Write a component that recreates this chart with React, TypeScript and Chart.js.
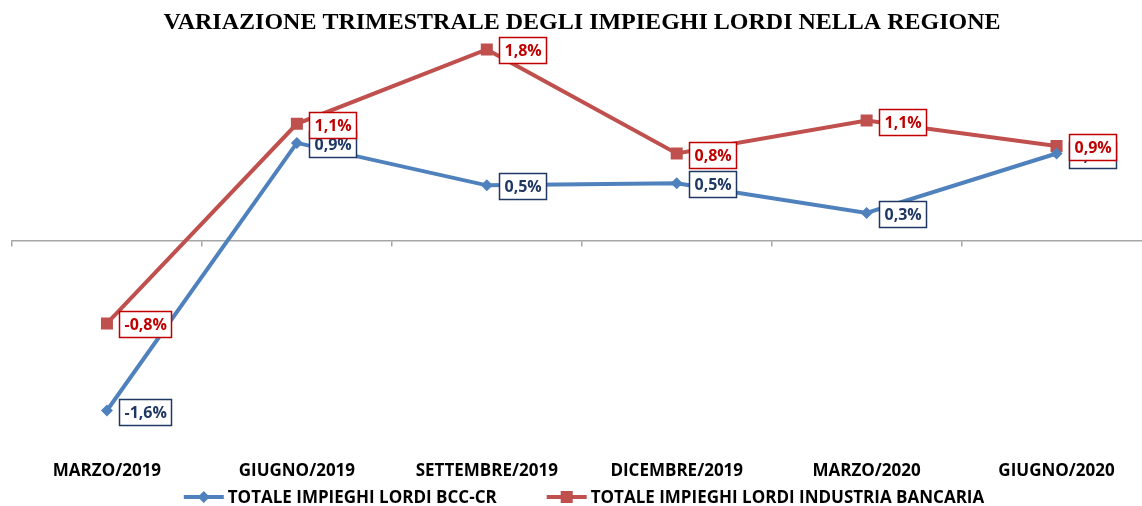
import React, { useEffect, useRef } from "react";
import { Chart, registerables } from "chart.js";

Chart.register(...registerables);

const categories = ["MARZO/2019", "GIUGNO/2019", "SETTEMBRE/2019", "DICEMBRE/2019", "MARZO/2020", "GIUGNO/2020"];
const bccValues = [-1.6, 0.92, 0.52, 0.54, 0.26, 0.82];
const industriaValues = [-0.78, 1.1, 1.8, 0.82, 1.13, 0.89];
const seriesNames = ["TOTALE IMPIEGHI LORDI BCC-CR", "TOTALE IMPIEGHI LORDI INDUSTRIA BANCARIA"];
const titleText = "VARIAZIONE TRIMESTRALE DEGLI IMPIEGHI LORDI NELLA REGIONE";

const BLUE = "#4F81BD";
const RED = "#C0504D";
const BLUE_LABEL = "#1F3864";
const RED_LABEL = "#C00000";
const AXIS = "#A6A6A6";
const SANS = '"Open Sans", "Noto Sans", sans-serif';

const labelColors = [BLUE_LABEL, RED_LABEL];
const lineColors = [BLUE, RED];

const boxLabels = {
  id: "boxLabels",
  afterDatasetsDraw(chart: any) {
    const ctx = chart.ctx as CanvasRenderingContext2D;
    chart.data.datasets.forEach((ds: any, di: number) => {
      const meta = chart.getDatasetMeta(di);
      const color = labelColors[di];
      ctx.save();
      ctx.font = `bold 16px ${SANS}`;
      meta.data.forEach((pt: any, i: number) => {
        const v = ds.data[i] as number;
        const txt = v.toFixed(1).replace(".", ",") + "%";
        const tw = ctx.measureText(txt).width;
        const w = Math.round(tw + 10);
        const h = 26;
        const x = Math.round(pt.x + 12) + 0.5;
        const y = Math.round(pt.y + 1 - h / 2) + 0.5;
        ctx.fillStyle = "#ffffff";
        ctx.fillRect(x, y, w, h);
        ctx.strokeStyle = color;
        ctx.lineWidth = 1.5;
        ctx.strokeRect(x, y, w, h);
        ctx.fillStyle = color;
        ctx.textAlign = "left";
        ctx.textBaseline = "middle";
        ctx.fillText(txt, x + 5, y + h / 2 + 1);
      });
      ctx.restore();
    });
  },
};

const bottomLegend = {
  id: "bottomLegend",
  afterDraw(chart: any) {
    const ctx = chart.ctx as CanvasRenderingContext2D;
    ctx.save();
    ctx.font = `bold 17px ${SANS}`;
    const lineLen = 40;
    const textGap = 4;
    const itemGap = 50;
    const widths = seriesNames.map((s) => ctx.measureText(s).width);
    const total = widths.reduce((a, w) => a + lineLen + textGap + w, 0) + itemGap * (seriesNames.length - 1);
    let x = 584 - total / 2;
    const y = 497;
    seriesNames.forEach((name, i) => {
      const color = lineColors[i];
      ctx.strokeStyle = color;
      ctx.lineWidth = 4;
      ctx.beginPath();
      ctx.moveTo(x, y);
      ctx.lineTo(x + lineLen, y);
      ctx.stroke();
      ctx.fillStyle = color;
      const cx = x + lineLen / 2;
      if (i === 0) {
        ctx.beginPath();
        ctx.moveTo(cx, y - 6);
        ctx.lineTo(cx + 6, y);
        ctx.lineTo(cx, y + 6);
        ctx.lineTo(cx - 6, y);
        ctx.closePath();
        ctx.fill();
      } else {
        ctx.fillRect(cx - 6, y - 6, 12, 12);
      }
      ctx.fillStyle = "#000";
      ctx.textAlign = "left";
      ctx.textBaseline = "middle";
      ctx.fillText(name, x + lineLen + textGap, y + 1);
      x += lineLen + textGap + widths[i] + itemGap;
    });
    ctx.restore();
  },
};

export default function App() {
  const ref = useRef<HTMLCanvasElement>(null);

  useEffect(() => {
    const chart = new Chart(ref.current!, {
      type: "line",
      data: {
        labels: categories,
        datasets: [
          {
            label: seriesNames[0],
            data: bccValues,
            borderColor: BLUE,
            backgroundColor: BLUE,
            borderWidth: 4,
            pointStyle: "rectRot",
            pointRadius: 6,
            pointBackgroundColor: BLUE,
            pointBorderColor: BLUE,
            pointBorderWidth: 0,
            tension: 0,
          },
          {
            label: seriesNames[1],
            data: industriaValues,
            borderColor: RED,
            backgroundColor: RED,
            borderWidth: 4,
            pointStyle: "rect",
            pointRadius: 8.5,
            pointBackgroundColor: RED,
            pointBorderColor: RED,
            pointBorderWidth: 0,
            tension: 0,
          },
        ],
      },
      options: {
        responsive: false,
        animation: false,
        devicePixelRatio: 1,
        layout: { padding: { left: 12, right: 8, top: 0, bottom: 16.6 } },
        scales: {
          x: {
            type: "category",
            offset: true,
            grid: { display: false, drawTicks: false },
            border: { display: false },
            ticks: {
              color: "#000",
              font: { family: SANS, size: 17, weight: "bold" },
              padding: 8,
              maxRotation: 0,
              autoSkip: false,
            },
          },
          x2: {
            type: "category",
            position: { y: 0 } as any,
            offset: true,
            grid: {
              offset: true,
              drawOnChartArea: false,
              drawTicks: true,
              tickLength: 5,
              color: AXIS,
              lineWidth: 1.5,
            },
            border: { display: true, color: AXIS, width: 1.5 },
            ticks: { display: false },
          },
          y: {
            type: "linear",
            display: false,
            min: -2,
            max: 1.9,
          },
        },
        plugins: {
          title: {
            display: true,
            text: titleText,
            color: "#000",
            font: { family: '"Liberation Serif", "Times New Roman", serif', size: 24, weight: "bold" },
            padding: { top: 8, bottom: 2 },
          },
          legend: { display: false },
          tooltip: { enabled: false },
        },
      },
      plugins: [boxLabels, bottomLegend],
    });
    return () => chart.destroy();
  }, []);

  return (
    <div
      style={{
        position: "fixed",
        left: 0,
        top: 0,
        width: 1142,
        height: 506,
        overflow: "hidden",
        background: "#ffffff",
      }}
    >
      <canvas ref={ref} width={1160} height={506} style={{ display: "block", width: 1160, height: 506 }} />
    </div>
  );
}
